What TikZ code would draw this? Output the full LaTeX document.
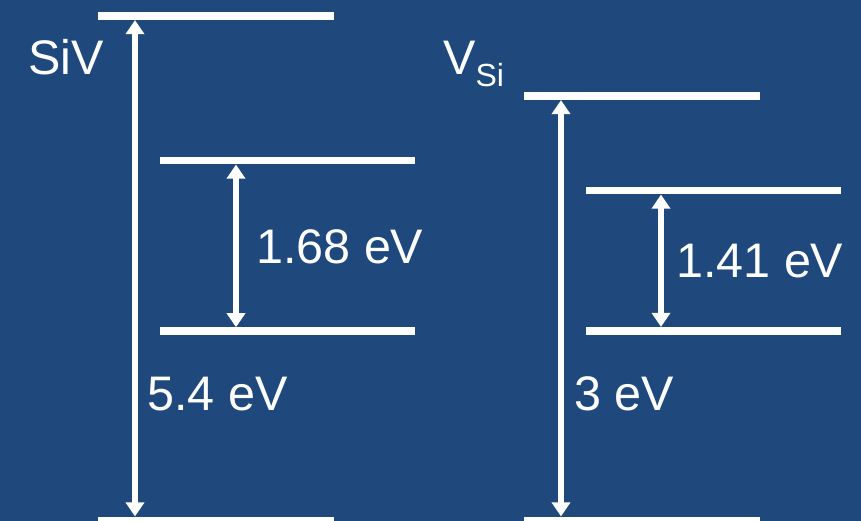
\documentclass[tikz,border=0pt]{standalone}
\usepackage{fontspec}
\setmainfont{Liberation Sans}
\usetikzlibrary{arrows.meta}
\definecolor{bgblue}{RGB}{31,73,125}
\begin{document}
\begin{tikzpicture}[x=1pt,y=-1pt,
  level/.style={fill=white,inner sep=0pt,minimum height=7.8pt},
  wide/.style={minimum width=236pt},
  narrow/.style={minimum width=255pt},
  gap/.style={draw=white,line width=5.5pt,{Triangle[width=18pt,length=14pt]}-{Triangle[width=18pt,length=14pt]}},
  lbl/.style={text=white,inner sep=0pt,anchor=base west,font=\fontsize{48.5}{58}\selectfont}]
\fill[bgblue] (0,0) rectangle (861,521);
\useasboundingbox (0,0) rectangle (861,521);
% SiV levels
\node[level,wide]   (s1) at (216,16) {};
\node[level,narrow] (s2) at (287.5,160.5) {};
\node[level,narrow] (s3) at (287.5,331.3) {};
\node[level,wide]   (s4) at (216,520.5) {};
% V_Si levels
\node[level,wide]   (v1) at (642,96) {};
\node[level,narrow] (v2) at (713.5,190.5) {};
\node[level,narrow] (v3) at (713.5,331) {};
\node[level,wide]   (v4) at (642,520.5) {};
% arrow positions
\coordinate (xa) at (135,0);
\coordinate (xb) at (236,0);
\coordinate (xc) at (561,0);
\coordinate (xd) at (661,0);
\draw[gap] (s1.south -| xa) -- (s4.north -| xa);
\draw[gap] (s2.south -| xb) -- (s3.north -| xb);
\draw[gap] (v1.south -| xc) -- (v4.north -| xc);
\draw[gap] (v2.south -| xd) -- (v3.north -| xd);
% labels
\node[lbl] (tsiv) at (28,75) {SiV};
\node[lbl] (tvsi) at (443,75) {V\raisebox{-12pt}{\fontsize{32}{38}\selectfont Si}};
\node[lbl] (t168) at (256,263) {1.68 eV};
\node[lbl] (t54)  at (147,410) {5.4 eV};
\node[lbl] (t141) at (676,277) {1.41 eV};
\node[lbl] (t3)   at (574,410) {3 eV};
\end{tikzpicture}
\end{document}
